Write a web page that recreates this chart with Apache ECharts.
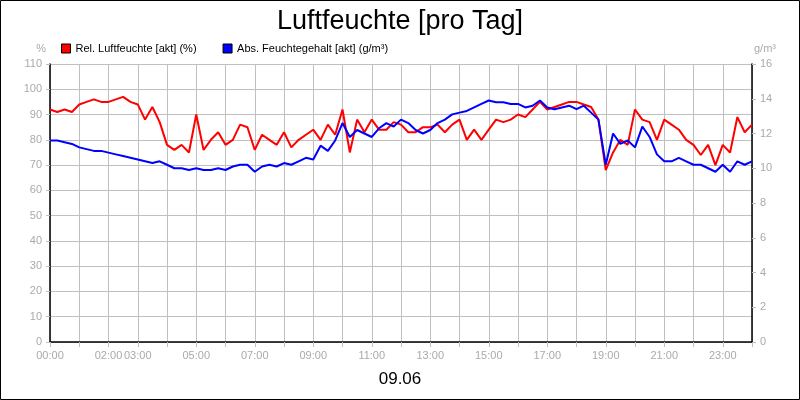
<!DOCTYPE html>
<html lang="de" style="height: 100%">
<head>
  <meta charset="utf-8">
</head>
<body style="height: 100%; margin: 0">
  <div id="container" style="height: 100%"></div>
  <script type="text/javascript" src="https://fastly.jsdelivr.net/npm/echarts@6/dist/echarts.min.js"></script>
  <script type="text/javascript">
// Zeitachse: alle 15 Minuten
var times = [];
for (var h = 0; h <= 24; h++) {
  for (var q = 0; q < 4; q++) {
    if (h === 24 && q > 0) break;
    times.push((h < 10 ? '0' : '') + h + ':' + ['00', '15', '30', '45'][q]);
  }
}
var shownLabels = ['00:00', '02:00', '03:00', '05:00', '07:00', '09:00', '11:00', '13:00', '15:00', '17:00', '19:00', '21:00', '23:00'];

// Rel. Luftfeuchte (%)
var relHumidity = [
  92, 91, 92, 91, 94, 95, 96, 95, 95, 96, 97, 95, 94, 88, 93, 87,
  78, 76, 78, 75, 90, 76, 80, 83, 78, 80, 86, 85, 76, 82, 80, 78,
  83, 77, 80, 82, 84, 80, 86, 82, 92, 75, 88, 83, 88, 84, 84, 87,
  86, 83, 83, 85, 85, 86, 83, 86, 88, 80, 84, 80, 84, 88, 87, 88,
  90, 89, 92, 95, 92, 93, 94, 95, 95, 94, 93, 88, 68, 75, 80, 78,
  92, 88, 87, 80, 88, 86, 84, 80, 78, 74, 78, 70, 78, 75, 89, 83, 86
];
// Abs. Feuchtegehalt (g/m³)
var absHumidity = [
  11.6, 11.6, 11.5, 11.4, 11.2, 11.1, 11.0, 11.0, 10.9, 10.8, 10.7, 10.6, 10.5, 10.4, 10.3, 10.4,
  10.2, 10.0, 10.0, 9.9, 10.0, 9.9, 9.9, 10.0, 9.9, 10.1, 10.2, 10.2, 9.8, 10.1, 10.2, 10.1,
  10.3, 10.2, 10.4, 10.6, 10.5, 11.3, 11.0, 11.6, 12.6, 11.8, 12.2, 12.0, 11.8, 12.3, 12.6, 12.4,
  12.8, 12.6, 12.2, 12.0, 12.2, 12.6, 12.8, 13.1, 13.2, 13.3, 13.5, 13.7, 13.9, 13.8, 13.8, 13.7,
  13.7, 13.5, 13.6, 13.9, 13.5, 13.4, 13.5, 13.6, 13.4, 13.6, 13.2, 12.8, 10.2, 12.0, 11.4, 11.6,
  11.2, 12.4, 11.8, 10.8, 10.4, 10.4, 10.6, 10.4, 10.2, 10.2, 10.0, 9.8, 10.2, 9.8, 10.4, 10.2, 10.4
];

var dom = document.getElementById('container');
var myChart = echarts.init(dom, null, { renderer: 'canvas' });
var labelColor = '#aaaaaa';
var gridColor = '#c0c0c0';

var option = {
  backgroundColor: '#fff',
  animation: false,
  textStyle: { fontFamily: 'Arial, Liberation Sans, sans-serif' },
  title: [
    { text: 'Luftfeuchte [pro Tag]', left: 'center', top: 3,
      textStyle: { fontSize: 27, fontWeight: 'normal', color: '#000' } },
    { text: '09.06', left: 'center', top: 366,
      textStyle: { fontSize: 17, fontWeight: 'normal', color: '#000' } }
  ],
  graphic: [{
    type: 'rect', shape: { x: 0.5, y: 0.5, width: 799, height: 399 },
    style: { fill: null, stroke: '#000', lineWidth: 1 }, silent: true
  }],
  legend: {
    left: 56, top: 38, itemWidth: 9, itemHeight: 9, itemGap: 26,
    icon: 'rect',
    textStyle: { fontSize: 11, color: '#000' },
    data: [
      { name: 'Rel. Luftfeuchte [akt] (%)', itemStyle: { borderColor: '#000', borderWidth: 1 } },
      { name: 'Abs. Feuchtegehalt [akt] (g/m³)', itemStyle: { borderColor: '#000', borderWidth: 1 } }
    ]
  },
  grid: { left: 50, right: 48, top: 64, bottom: 58 },
  xAxis: {
    type: 'category', boundaryGap: false, data: times,
    axisLine: { lineStyle: { color: '#000', width: 1.5 } },
    axisTick: { interval: function (i) { return i % 4 === 0; }, lineStyle: { color: gridColor }, length: 5 },
    axisLabel: {
      color: labelColor, fontSize: 11, margin: 8,
      interval: function (i, v) { return shownLabels.indexOf(v) >= 0; }
    },
    splitLine: { show: true, interval: function (i) { return i % 4 === 0; }, lineStyle: { color: gridColor } }
  },
  yAxis: [
    {
      type: 'value', min: 0, max: 110, interval: 10, name: '%',
      nameGap: 10, nameTextStyle: { color: labelColor, fontSize: 11, align: 'right', padding: [0, 4, 0, 0] },
      axisLine: { show: true, lineStyle: { color: '#000', width: 1.5 } },
      axisTick: { show: true, lineStyle: { color: gridColor }, length: 4 },
      axisLabel: { color: labelColor, fontSize: 11 },
      splitLine: { lineStyle: { color: gridColor } }
    },
    {
      type: 'value', min: 0, max: 16, interval: 2, name: 'g/m³', position: 'right',
      nameGap: 10, nameTextStyle: { color: labelColor, fontSize: 11, align: 'left', padding: [0, 0, 0, 2] },
      axisLine: { show: true, lineStyle: { color: '#000', width: 1.5 } },
      axisTick: { show: true, lineStyle: { color: gridColor }, length: 4 },
      axisLabel: { color: labelColor, fontSize: 11 },
      splitLine: { show: false }
    }
  ],
  series: [
    { name: 'Rel. Luftfeuchte [akt] (%)', type: 'line', yAxisIndex: 0, data: relHumidity,
      showSymbol: false, color: '#ff0000', lineStyle: { width: 2 } },
    { name: 'Abs. Feuchtegehalt [akt] (g/m³)', type: 'line', yAxisIndex: 1, data: absHumidity,
      showSymbol: false, color: '#0000ff', lineStyle: { width: 2 } }
  ]
};

myChart.setOption(option);
window.addEventListener('resize', myChart.resize);
  </script>
</body>
</html>
